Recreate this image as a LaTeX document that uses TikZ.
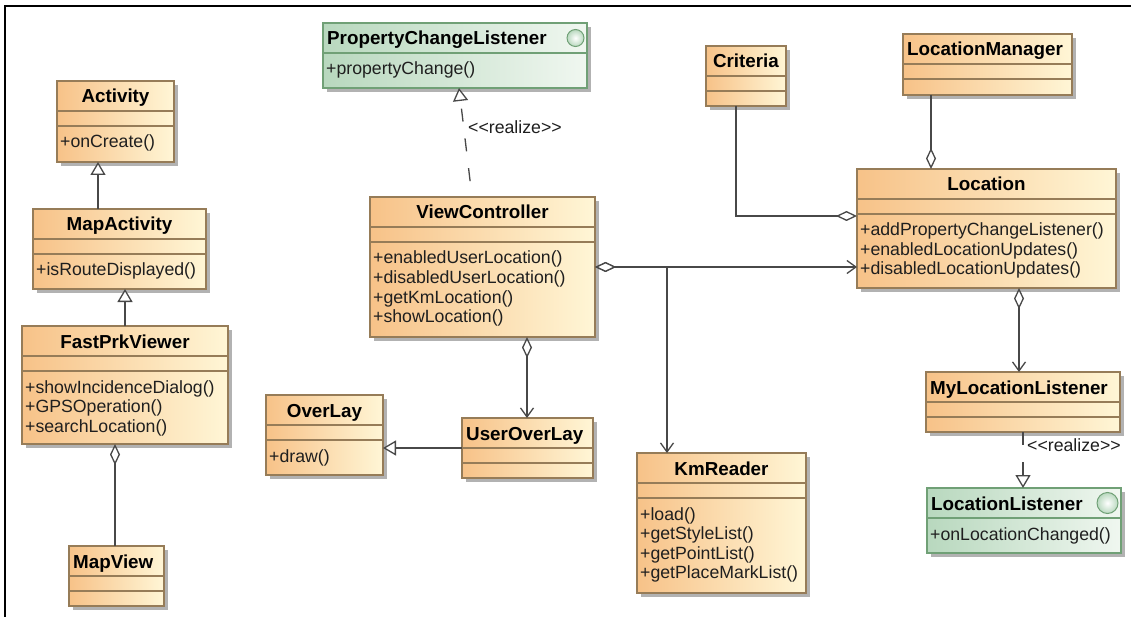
\documentclass[tikz,border=0pt]{standalone}
\usepackage{fontspec}
\newfontfamily\umlfont{Liberation Sans}
\usetikzlibrary{arrows.meta}

\definecolor{clsL}{RGB}{247,194,136}
\definecolor{clsR}{RGB}{255,246,214}
\definecolor{clsB}{RGB}{150,124,88}
\definecolor{ifcL}{RGB}{184,216,190}
\definecolor{ifcR}{RGB}{240,247,240}
\definecolor{ifcB}{RGB}{112,160,118}
\definecolor{wirec}{RGB}{72,72,72}
\definecolor{dropc}{RGB}{178,178,178}

\newcommand{\clsTitleFont}{\umlfont\fontsize{18.8pt}{20pt}\selectfont\bfseries}
\newcommand{\clsOpFont}{\umlfont\fontsize{17.7pt}{19.5pt}\selectfont}

% class box: name, x1, y1, x2, y2, title alignment (c/l), title, operations
\newcommand{\umlclass}[8]{%
  \fill[dropc] (#2+4,#3+4) rectangle (#4+4,#5+4);
  \shade[left color=clsL, right color=clsR] (#2,#3) rectangle (#4,#5);
  \draw[clsB, line width=1.2pt] (#2,#3+30) -- (#4,#3+30) (#2,#3+45) -- (#4,#3+45);
  \node[boxframe, draw=clsB, minimum width={(#4-#2)*1pt}, minimum height={(#5-#3)*1pt}]
    (#1) at ({(#2+#4)/2},{(#3+#5)/2}) {};
  \if#6c
    \node[titlest, anchor=base] at ({(#2+#4)/2},#3+22) {#7};
  \else
    \node[titlest, anchor=base west] at (#2+4,#3+22) {#7};
  \fi
  \def\clsops{#8}%
  \ifx\clsops\empty\else
    \foreach \opline [count=\i from 0] in {#8} {
      \node[opst, anchor=base west] at (#2+3,#3+67+19.5*\i) {\opline};
    }
  \fi
}

% interface box: name, x1, y1, x2, y2, icon radius, title, operation
\newcommand{\umliface}[8]{%
  \fill[dropc] (#2+4,#3+4) rectangle (#4+4,#5+4);
  \shade[left color=ifcL, right color=ifcR] (#2,#3) rectangle (#4,#5);
  \draw[ifcB, line width=1.2pt] (#2,#3+30) -- (#4,#3+30);
  \node[boxframe, draw=ifcB, minimum width={(#4-#2)*1pt}, minimum height={(#5-#3)*1pt}]
    (#1) at ({(#2+#4)/2},{(#3+#5)/2}) {};
  \shade[inner color=white, outer color=ifcL] (#4-#6-3,#3+15) circle[radius=#6pt];
  \draw[ifcB, line width=1pt] (#4-#6-3,#3+15) circle[radius=#6pt];
  \node[titlest, anchor=base west] at (#2+4,#3+22) {#7};
  \node[opst, anchor=base west] at (#2+3,#3+52) {#8};
}

\begin{document}
\begin{tikzpicture}[x=1pt,y=-1pt,
  boxframe/.style={rectangle, inner sep=0pt, outer sep=0pt, line width=1.2pt},
  titlest/.style={font=\clsTitleFont, inner sep=0pt, text=black},
  opst/.style={font=\clsOpFont, inner sep=0pt, text=black!88},
  wire/.style={draw=wirec, line width=1.3pt},
  agg/.style={wire, {Diamond[length=21pt,width=10pt,fill=white]}-{Straight Barb[length=9pt,width=13pt]}},
  aggstart/.style={wire, {Diamond[length=21pt,width=10pt,fill=white]}-},
  aggend/.style={wire, -{Diamond[length=21pt,width=10pt,fill=white]}},
  gen/.style={wire, -{Triangle[length=13pt,width=15pt,fill=white]}},
  realize/.style={gen, dash pattern=on 13pt off 17pt},
  stereo/.style={font=\clsOpFont, inner sep=0pt, text=black!88, anchor=base west},
]
\useasboundingbox (0,0) rectangle (1131,617);
\fill[white] (0,0) rectangle (1131,617);

% page frame
\draw[line width=2.4pt] (5,617) -- (5,6) -- (1131,6);

% classes
\umlclass{act}{57}{81}{174}{162}{c}{Activity}{+onCreate()}
\umlclass{ma}{33}{209}{206}{289}{c}{MapActivity}{+isRouteDisplayed()}
\umlclass{fpv}{22}{326}{228}{444}{c}{FastPrkViewer}{+showIncidenceDialog(),+GPSOperation(),+searchLocation()}
\umlclass{mv}{69}{546}{164}{606}{l}{MapView}{}
\umlclass{ovl}{266}{395}{383}{475}{c}{OverLay}{+draw()}
\umlclass{uol}{462}{418}{593}{478}{l}{UserOverLay}{}
\umlclass{vc}{370}{197}{595}{337}{c}{ViewController}{+enabledUserLocation(),+disabledUserLocation(),+getKmLocation(),+showLocation()}
\umlclass{km}{637}{453}{806}{593}{c}{KmReader}{+load(),+getStyleList(),+getPointList(),+getPlaceMarkList()}
\umlclass{crit}{706}{46}{786}{106}{c}{Criteria}{}
\umlclass{lm}{903}{34}{1072}{95}{l}{LocationManager}{}
\umlclass{loc}{857}{169}{1116}{288}{c}{Location}{+addPropertyChangeListener(),+enabledLocationUpdates(),+disabledLocationUpdates()}
\umlclass{mll}{926}{372}{1120}{432}{l}{MyLocationListener}{}

% interfaces
\umliface{pcl}{323}{23}{587}{88}{8.5}{PropertyChangeListener}{+propertyChange()}
\umliface{ll}{927}{488}{1121}{553}{10.5}{LocationListener}{+onLocationChanged()}

% generalizations
\draw[gen] (98,0 |- ma.north) -- (98,0 |- act.south);
\draw[gen] (125,0 |- fpv.north) -- (125,0 |- ma.south);
\draw[gen] (uol.west |- 0,448) -- (ovl.east |- 0,448);

% realizations
\draw[realize, dash phase=14pt] (472,0 |- vc.north) -- (459,0 |- pcl.south);
\node[stereo] (rl1) at (468,134) {<<realize>>};
\draw[realize] (1023,0 |- mll.south) -- (1023,0 |- ll.north);
\node[stereo] (rl2) at (1027,451) {<<realize>>};

% aggregations
\draw[aggstart] (115,0 |- fpv.south) -- (115,0 |- mv.north);
\draw[agg] (vc.east) -- (vc.east -| loc.west);
\draw[agg] (vc.east) -- (667,0 |- vc.east) -- (667,0 |- km.north);
\draw[agg] (527,0 |- vc.south) -- (527,0 |- uol.north);
\draw[aggend] (736,0 |- crit.south) |- (loc.west |- 0,216);
\draw[aggend] (931,0 |- lm.south) -- (931,0 |- loc.north);
\draw[agg] (1019,0 |- loc.south) -- (1019,0 |- mll.north);
\end{tikzpicture}
\end{document}
